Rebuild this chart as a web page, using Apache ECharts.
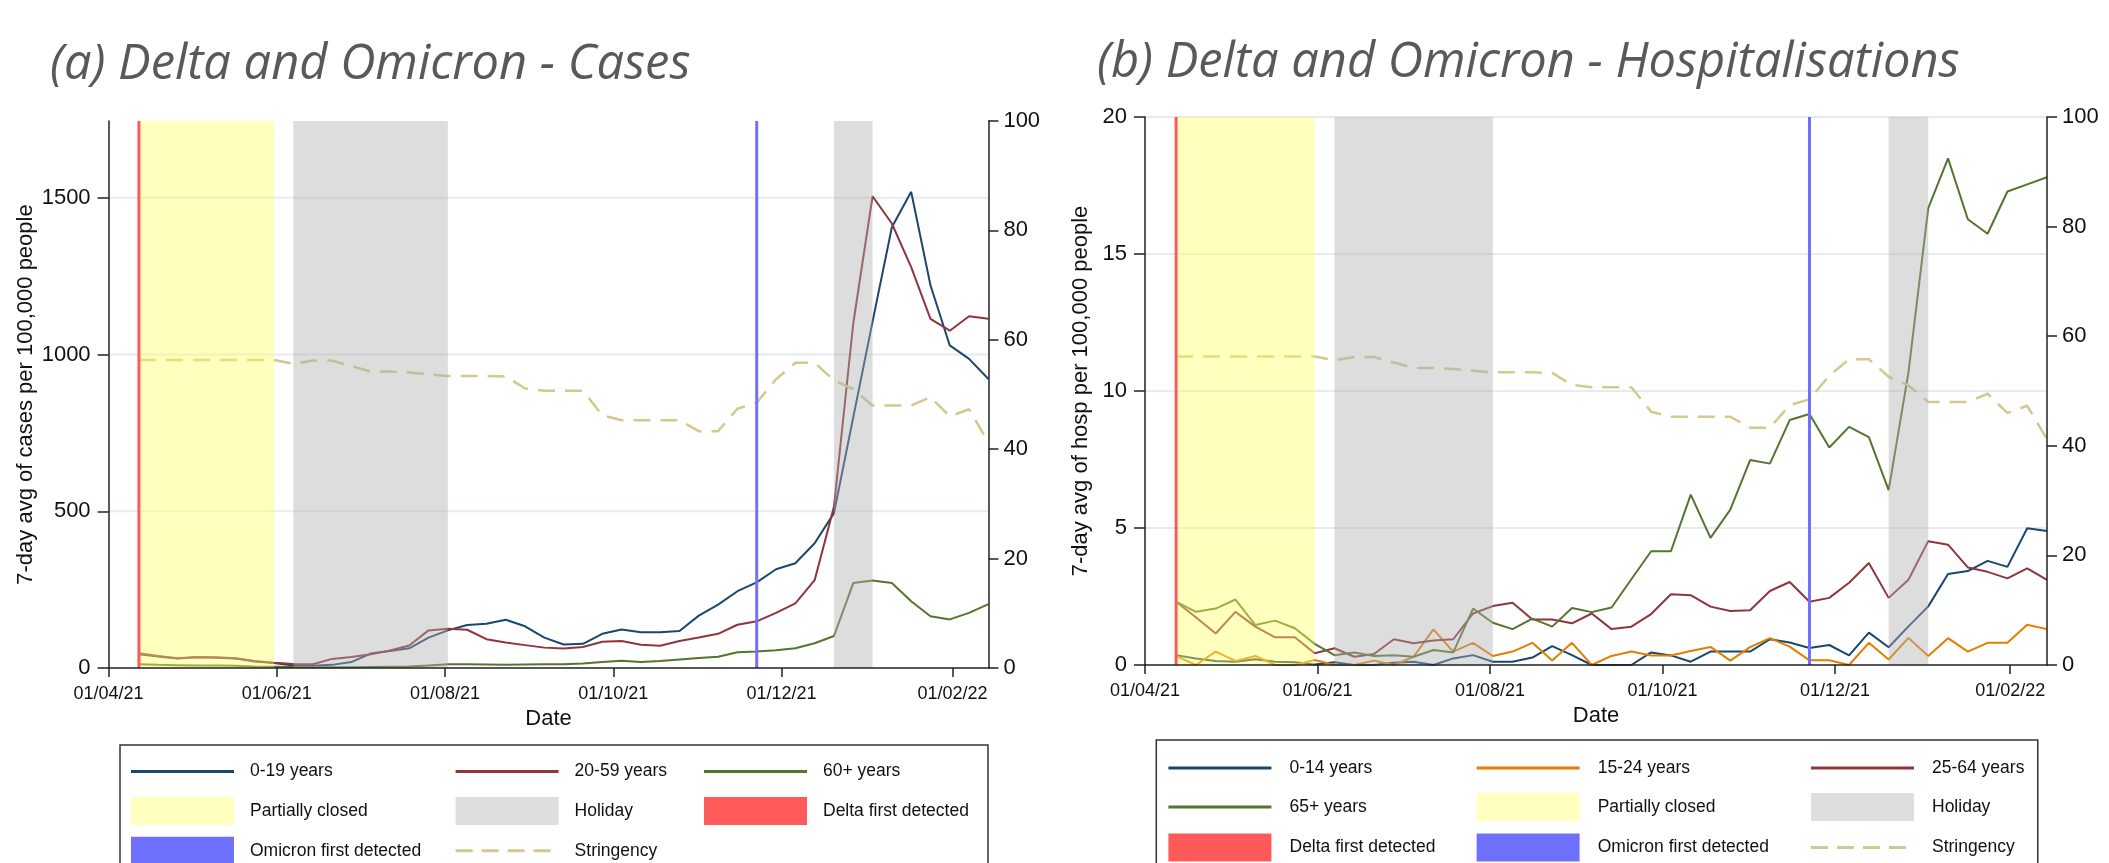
<!DOCTYPE html>
<html>
<head>
<meta charset="utf-8">
<script src="https://cdn.jsdelivr.net/npm/echarts@6/dist/echarts.min.js"></script>
<style>
html,body{margin:0;padding:0;background:#ffffff;}
#chart{width:2109px;height:863px;}
</style>
</head>
<body>
<div id="chart"></div>
<script>
// ---------------- DATA ----------------
const weekDates = ['2021-04-12','2021-04-19','2021-04-26','2021-05-03','2021-05-10','2021-05-17','2021-05-24','2021-05-31',
  '2021-06-07','2021-06-14','2021-06-21','2021-06-28','2021-07-05','2021-07-12','2021-07-19','2021-07-26',
  '2021-08-02','2021-08-09','2021-08-16','2021-08-23','2021-08-30','2021-09-06','2021-09-13','2021-09-20',
  '2021-09-27','2021-10-04','2021-10-11','2021-10-18','2021-10-25','2021-11-01','2021-11-08','2021-11-15',
  '2021-11-22','2021-11-29','2021-12-06','2021-12-13','2021-12-20','2021-12-27','2022-01-03','2022-01-10',
  '2022-01-17','2022-01-24','2022-01-31','2022-02-07','2022-02-14'];

const casesAge0to19 = [44,37,30,34,33,30,21,16,8,7,10,19,46,54,63,97,120,137,141,154,133,97,75,77,109,123,114,114,118,167,202,245,273,315,334,398,494,800,1105,1406,1519,1221,1029,986,922];
const casesAge20to59 = [47,38,31,35,34,31,22,17,13,12,29,35,44,56,72,120,125,122,92,81,73,65,62,67,84,86,74,71,86,97,109,138,149,176,206,280,514,1099,1505,1418,1279,1114,1076,1122,1114];
const casesAge60plus = [12,10,9,8,8,7,5,4,3,2,2,2,3,4,5,8,12,12,11,10,11,12,12,14,19,23,19,22,27,32,36,50,53,57,63,79,102,271,279,271,213,165,155,176,204];

const hospAge0to14 = [0.36,0.24,0.15,0.12,0.21,0.12,0.10,0.02,0.10,0,0,0.08,0.12,0,0.24,0.36,0.12,0.12,0.27,0.69,0.36,0,0,0,0.46,0.35,0.12,0.49,0.49,0.49,0.94,0.82,0.62,0.73,0.35,1.18,0.65,1.41,2.14,3.32,3.43,3.80,3.58,4.99,4.89];
const hospAge15to24 = [0.33,0,0.49,0.15,0.33,0,0,0.18,0,0,0.16,0,0.30,1.30,0.49,0.81,0.33,0.49,0.81,0.16,0.81,0,0.33,0.49,0.35,0.35,0.51,0.66,0.16,0.65,0.98,0.67,0.17,0.17,0,0.81,0.20,0.99,0.33,0.98,0.49,0.81,0.81,1.47,1.31];
const hospAge25to64 = [2.31,1.74,1.15,1.94,1.40,1.01,1.01,0.43,0.61,0.30,0.40,0.94,0.79,0.89,0.94,1.88,2.15,2.27,1.66,1.66,1.52,1.88,1.31,1.40,1.86,2.58,2.55,2.13,1.97,2.00,2.70,3.03,2.31,2.45,3.00,3.72,2.45,3.11,4.52,4.39,3.56,3.40,3.16,3.53,3.11];
const hospAge65plus = [2.31,1.94,2.06,2.39,1.46,1.62,1.34,0.77,0.36,0.46,0.33,0.36,0.30,0.55,0.46,2.06,1.54,1.31,1.69,1.40,2.08,1.93,2.10,3.13,4.15,4.15,6.22,4.64,5.67,7.48,7.35,8.94,9.16,7.94,8.69,8.32,6.38,10.68,16.67,18.49,16.27,15.74,17.28,17.54,17.80];

const stringency = [56.3,56.3,56.3,56.3,56.3,56.3,56.3,56.3,55.6,56.2,56.2,55.2,54.2,54.2,54.0,53.7,53.4,53.4,53.4,53.3,51.1,50.7,50.7,50.7,46.2,45.3,45.3,45.3,45.3,43.3,43.3,47.4,48.5,52.8,55.8,55.8,52.6,51.0,48.0,48.0,48.0,49.5,46.0,47.3,41.2];

const partiallyClosed = [['2021-04-12','2021-05-31']];
const holidays = [['2021-06-07','2021-08-02'],['2021-12-20','2022-01-03']];
const deltaFirstDetected = '2021-04-12';
const omicronFirstDetected = '2021-11-22';

const xRange = ['2021-04-01','2022-02-14'];
const xTickDates = ['2021-04-01','2021-06-01','2021-08-01','2021-10-01','2021-12-01','2022-02-01'];
const xTickLabels = ['01/04/21','01/06/21','01/08/21','01/10/21','01/12/21','01/02/22'];
const casesTicks = [0,500,1000,1500];
const casesMax = 1745;
const hospTicks = [0,5,10,15,20];
const hospMax = 20;
const stringencyTicks = [0,20,40,60,80,100];

const titles = ['(a) Delta and Omicron - Cases','(b) Delta and Omicron - Hospitalisations'];
const yTitles = ['7-day avg of cases per 100,000 people','7-day avg of hosp per 100,000 people'];
const xTitle = 'Date';
const casesNames = ['0-19 years','20-59 years','60+ years'];
const hospNames = ['0-14 years','15-24 years','25-64 years','65+ years'];
const markerNames = ['Partially closed','Holiday','Delta first detected','Omicron first detected','Stringency'];

// ---------------- STYLE ----------------
const COL = {
  navy:'#1a476f', maroon:'#90353b', green:'#55752f', orange:'#e37e00',
  khaki:'#d2c98c', yellow:'#ffffc0', grey:'#dedede', delta:'#ff5a5a', omicron:'#7070ff'
};
const BAND_FILL = ['rgba(255,255,100,0.42)','rgba(175,175,175,0.42)'];
const FONT = "'Liberation Sans', Arial, sans-serif";
const TXT = '#111111';

const ts = s => Date.parse(s + 'T00:00:00Z');
const pairs = arr => weekDates.map((d, i) => [ts(d), arr[i]]);
const xTickTs = xTickDates.map(ts);

const grids = [
  {left:108.6, top:121, width:879.8, height:547},
  {left:1145, top:117, width:902, height:548}
];

function xAxisFor(gi) {
  return {
    type:'value', gridIndex:gi, min:ts(xRange[0]), max:ts(xRange[1]), z:10,
    axisLine:{show:true, onZero:false, lineStyle:{color:'#222', width:1.5}},
    axisTick:{show:true, customValues:xTickTs, length:9, lineStyle:{color:'#222', width:1.5}},
    axisLabel:{show:true, customValues:xTickTs, margin:17, fontSize:18, fontFamily:FONT, color:TXT,
      formatter: v => { const i = xTickTs.indexOf(v); return i >= 0 ? xTickLabels[i] : ''; }},
    splitLine:{show:false},
    name:xTitle, nameLocation:'middle', nameGap:37,
    nameTextStyle:{fontSize:22, fontFamily:FONT, color:TXT}
  };
}
function yLeftFor(gi, max, ticks, name, gap) {
  return {
    type:'value', gridIndex:gi, position:'left', min:0, max:max, interval:ticks[1]-ticks[0], z:10,
    axisLine:{show:true, lineStyle:{color:'#222', width:1.5}},
    axisTick:{show:true, customValues:ticks, length:11, lineStyle:{color:'#222', width:1.5}},
    axisLabel:{show:true, customValues:ticks, margin:18, fontSize:22, fontFamily:FONT, color:TXT,
      formatter: v => String(v)},
    splitLine:{show:false},
    name:name, nameLocation:'middle', nameGap:gap, nameRotate:90,
    nameTextStyle:{fontSize:22, fontFamily:FONT, color:TXT}
  };
}
function yRightFor(gi) {
  return {
    type:'value', gridIndex:gi, position:'right', min:0, max:100, interval:20, z:10,
    axisLine:{show:true, lineStyle:{color:'#222', width:1.5}},
    axisTick:{show:true, customValues:stringencyTicks, length:10, lineStyle:{color:'#222', width:1.5}},
    axisLabel:{show:true, customValues:stringencyTicks, margin:15, fontSize:22, fontFamily:FONT, color:TXT,
      formatter: v => String(v)},
    splitLine:{show:false}
  };
}

function gridLineSeries(gi, yi, values) {
  const x0 = ts(xRange[0]);
  return {
    type:'custom', xAxisIndex:gi, yAxisIndex:yi, z:1, silent:true,
    data: values.filter(v => v > 0).map(v => [x0, v]),
    encode:{x:0, y:1},
    renderItem:(params, api) => {
      const cs = params.coordSys;
      const y = api.coord([api.value(0), api.value(1)])[1];
      return {type:'line', shape:{x1:cs.x, y1:y, x2:cs.x+cs.width, y2:y},
        style:{stroke:'#e4ecf0', lineWidth:2}};
    }
  };
}
function bandSeries(gi, yi) {
  const data = partiallyClosed.map(b => [ts(b[0]), ts(b[1]), 0])
    .concat(holidays.map(b => [ts(b[0]), ts(b[1]), 1]));
  return {
    type:'custom', xAxisIndex:gi, yAxisIndex:yi, z:3, silent:true,
    data:data, encode:{x:[0,1], y:2},
    renderItem:(params, api) => {
      const cs = params.coordSys;
      const xa = api.coord([api.value(0), 0])[0];
      const xb = api.coord([api.value(1), 0])[0];
      return {type:'rect', shape:{x:xa, y:cs.y, width:xb-xa, height:cs.height},
        style:{fill:BAND_FILL[api.value(2)]}};
    }
  };
}
function eventSeries(gi, yi) {
  const data = [[ts(deltaFirstDetected), 0], [ts(omicronFirstDetected), 1]];
  const cols = [COL.delta, COL.omicron];
  return {
    type:'custom', xAxisIndex:gi, yAxisIndex:yi, z:4, silent:true,
    data:data, encode:{x:0, y:1},
    renderItem:(params, api) => {
      const cs = params.coordSys;
      const x = api.coord([api.value(0), 0])[0];
      return {type:'line', shape:{x1:x, y1:cs.y, x2:x, y2:cs.y+cs.height},
        style:{stroke:cols[api.value(1)], lineWidth:3}};
    }
  };
}
function lineSeries(gi, yi, name, arr, color) {
  return {type:'line', name:name, xAxisIndex:gi, yAxisIndex:yi, data:pairs(arr), z:2,
    symbol:'none', lineStyle:{color:color, width:2}, itemStyle:{color:color}, silent:true};
}
function stringencySeries(gi, yi) {
  return {type:'line', name:markerNames[4], xAxisIndex:gi, yAxisIndex:yi, data:pairs(stringency), z:2,
    symbol:'none', lineStyle:{color:COL.khaki, width:2.5, type:[17,10]}, itemStyle:{color:COL.khaki}, silent:true};
}

const series = [
  gridLineSeries(0, 0, casesTicks),
  lineSeries(0, 0, casesNames[0], casesAge0to19, COL.navy),
  lineSeries(0, 0, casesNames[1], casesAge20to59, COL.maroon),
  lineSeries(0, 0, casesNames[2], casesAge60plus, COL.green),
  stringencySeries(0, 1),
  bandSeries(0, 0),
  eventSeries(0, 0),

  gridLineSeries(1, 2, hospTicks),
  lineSeries(1, 2, hospNames[0], hospAge0to14, COL.navy),
  lineSeries(1, 2, hospNames[1], hospAge15to24, COL.orange),
  lineSeries(1, 2, hospNames[2], hospAge25to64, COL.maroon),
  lineSeries(1, 2, hospNames[3], hospAge65plus, COL.green),
  stringencySeries(1, 3),
  bandSeries(1, 2),
  eventSeries(1, 2)
];

// ---------------- LEGENDS (graphic) ----------------
function legendItems(names, colors) {
  const items = names.map((n, i) => ({name:n, kind:'line', color:colors[i]}));
  items.push({name:markerNames[0], kind:'rect', color:COL.yellow});
  items.push({name:markerNames[1], kind:'rect', color:COL.grey});
  items.push({name:markerNames[2], kind:'rect', color:COL.delta});
  items.push({name:markerNames[3], kind:'rect', color:COL.omicron});
  items.push({name:markerNames[4], kind:'dash', color:COL.khaki});
  return items;
}
function buildLegend(items, box, symX, txtX, rowY) {
  const els = [{type:'rect', shape:{x:box.x, y:box.y, width:box.w, height:box.h},
    style:{fill:'none', stroke:'#333', lineWidth:1.5}, z:20}];
  items.forEach((it, i) => {
    const r = Math.floor(i / 3), c = i % 3;
    const cy = rowY[r], sx = symX[c];
    if (it.kind === 'rect') {
      els.push({type:'rect', shape:{x:sx, y:cy-14, width:103, height:28}, style:{fill:it.color}, z:20});
    } else {
      els.push({type:'line', shape:{x1:sx, y1:cy, x2:sx+103, y2:cy},
        style:{stroke:it.color, lineWidth:3, lineDash: it.kind === 'dash' ? [17,9] : null}, z:20});
    }
    els.push({type:'text', x:txtX[c], y:cy, z:20,
      style:{text:it.name, fontSize:17.5, fontFamily:FONT, fill:TXT, verticalAlign:'middle', align:'left'}});
  });
  return els;
}

const TITLE_FONT = "'Open Sans', 'Noto Sans', sans-serif";
const graphic = []
  .concat(buildLegend(legendItems(casesNames, [COL.navy, COL.maroon, COL.green]),
    {x:120, y:745, w:868, h:160}, [131, 455.6, 704], [250, 574.6, 823], [771.5, 811, 850.8]))
  .concat(buildLegend(legendItems(hospNames, [COL.navy, COL.orange, COL.maroon, COL.green]),
    {x:1156.3, y:740, w:881.5, h:160}, [1168.4, 1476.6, 1811], [1289.5, 1597.7, 1932], [768, 807, 847.4]))
  .concat([
    {type:'text', x:50, y:65, z:20, style:{text:titles[0], fontSize:48.8, fontStyle:'italic', fontWeight:400,
      fontFamily:TITLE_FONT, fill:'#595959', verticalAlign:'middle'}},
    {type:'text', x:1097, y:63, z:20, style:{text:titles[1], fontSize:48.8, fontStyle:'italic', fontWeight:400,
      fontFamily:TITLE_FONT, fill:'#595959', verticalAlign:'middle'}}
  ]);

const option = {
  animation:false,
  backgroundColor:'#ffffff',
  grid:grids.map(g => Object.assign({containLabel:false}, g)),
  xAxis:[xAxisFor(0), xAxisFor(1)],
  yAxis:[
    yLeftFor(0, casesMax, casesTicks, yTitles[0], 72),
    yRightFor(0),
    yLeftFor(1, hospMax, hospTicks, yTitles[1], 53),
    yRightFor(1)
  ],
  series:series,
  graphic:graphic
};

const chart = echarts.init(document.getElementById('chart'), null, {renderer:'canvas'});
chart.setOption(option);
</script>
</body>
</html>
